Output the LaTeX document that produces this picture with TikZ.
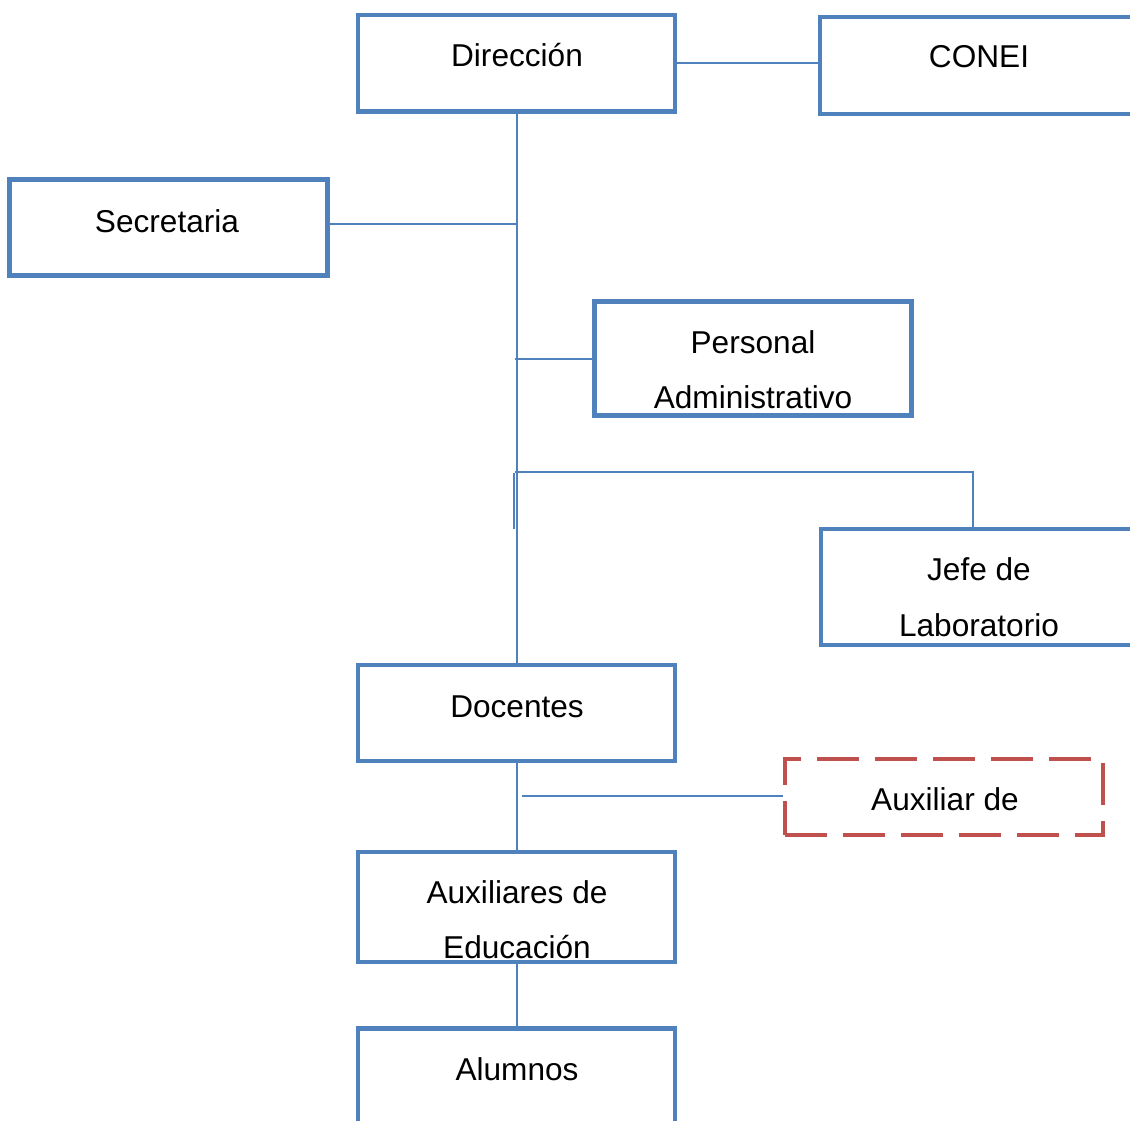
\documentclass[tikz,border=0pt]{standalone}
\usepackage{fontspec}
\setmainfont{Liberation Sans}
\definecolor{bx}{HTML}{4F81BD}
\definecolor{rd}{HTML}{C0504D}
\begin{document}
\begin{tikzpicture}[x=1pt,y=-1pt,
  box/.style={draw=bx,line width=4.5pt,fill=white,inner sep=0pt,rectangle},
  dbox/.style={draw=rd,line width=4.5pt,fill=white,inner sep=0pt,rectangle,dash pattern=on 42pt off 16pt},
  conn/.style={draw=bx,line width=2pt},
  lbl/.style={anchor=base,inner sep=0pt,font=\fontsize{31.6}{36}\selectfont}]
\useasboundingbox (0,0) rectangle (1130,1121);
\clip (0,0) rectangle (1130,1121);
% boxes
\node[box,minimum width=317pt,minimum height=96.5pt] (dir) at (516.5,63.25) {};
\node[box,minimum width=317pt,minimum height=97pt] (conei) at (978.5,65.5) {};
\node[box,minimum width=318pt,minimum height=96pt] (sec) at (168.5,227.5) {};
\node[box,minimum width=317pt,minimum height=114pt] (pa) at (753,358.5) {};
\node[box,minimum width=317pt,minimum height=116pt] (jefe) at (979.5,587) {};
\node[box,minimum width=317pt,minimum height=96pt] (doc) at (516.5,713) {};
\node[dbox,minimum width=318pt,minimum height=76pt] (aux) at (944,797) {};
\node[box,minimum width=317pt,minimum height=110pt] (aed) at (516.5,907) {};
\node[box,minimum width=317pt,minimum height=97pt] (alu) at (516.5,1077) {};
% coordinates
\coordinate (tsec) at (516.5,224);
\coordinate (tpa) at (515,358.5);
\coordinate (tj) at (515,472);
\coordinate (tjr) at (973,472);
\coordinate (ex1) at (514,473);
\coordinate (ex2) at (514,529);
\coordinate (taux) at (521.5,795.5);
% connectors
\draw[conn] (dir.east) -- (dir.east -| conei.west);
\draw[conn] (dir.south) -- (doc.north);
\draw[conn] (sec.east |- tsec) -- (tsec);
\draw[conn] (tpa) -- (pa.west);
\draw[conn] (tj) -- (tjr) -- (tjr |- jefe.north);
\draw[draw=bx,line width=2.5pt] (ex1) -- (ex2);
\draw[conn] (doc.south) -- (aed.north);
\draw[conn] (taux) -- (taux -| aux.west);
\draw[conn] (aed.south) -- (alu.north);
% labels
\node[lbl] (tdir) at (517,67) {Dirección};
\node[lbl] (tconei) at (979,68) {CONEI};
\node[lbl] (tsecl) at (167,232) {Secretaria};
\node[lbl] (tpa1) at (753,353) {Personal};
\node[lbl] (tpa2) at (753,408) {Administrativo};
\node[lbl] (tj1) at (979,580) {Jefe de};
\node[lbl] (tj2) at (979,636) {Laboratorio};
\node[lbl] (tdoc) at (517,717) {Docentes};
\node[lbl] (tauxl) at (945,810) {Auxiliar de};
\node[lbl] (taed1) at (517,903) {Auxiliares de};
\node[lbl] (taed2) at (517,958) {Educación};
\node[lbl] (talu) at (517,1080) {Alumnos};
\end{tikzpicture}
\end{document}
